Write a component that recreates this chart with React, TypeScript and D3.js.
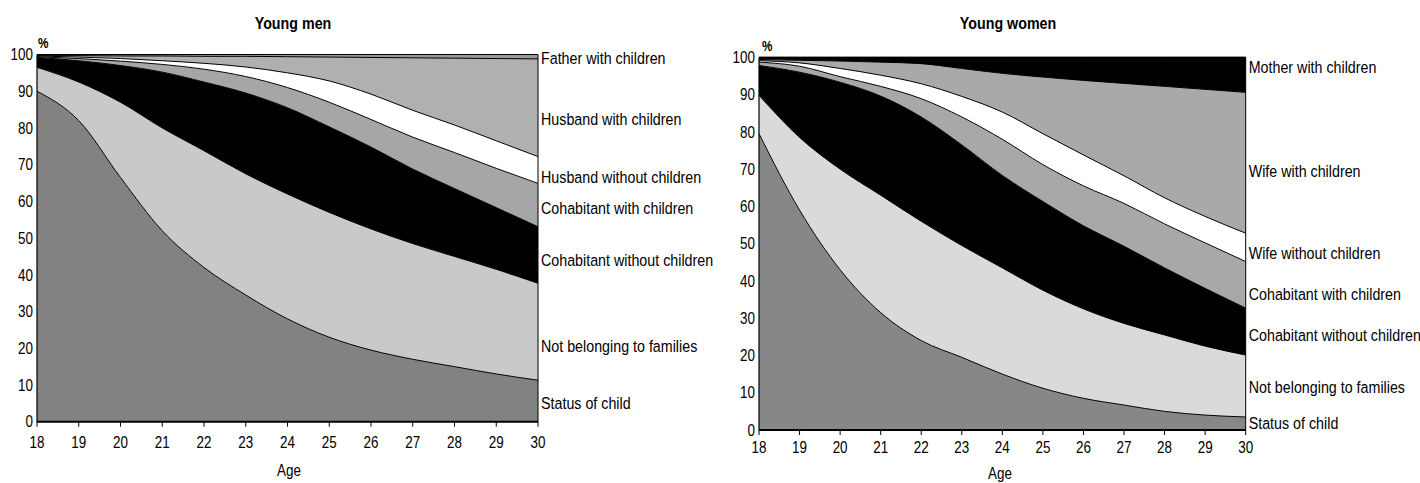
import React from 'react';
import * as d3 from 'd3';

const AGES = [18, 19, 20, 21, 22, 23, 24, 25, 26, 27, 28, 29, 30];
const Y_TICKS = [0, 10, 20, 30, 40, 50, 60, 70, 80, 90, 100];

// Young men (bottom to top), % of age group
const MEN_KEYS = [
  'Status of child',
  'Not belonging to families',
  'Cohabitant without children',
  'Cohabitant with children',
  'Husband without children',
  'Husband with children',
  'Father with children',
];
const menStatusOfChild = [90, 82, 66.5, 52, 42, 34.5, 28, 23, 19.5, 17, 15, 13, 11.3];
const menNotBelonging = [6.5, 10.5, 20.5, 28, 31.8, 33, 34, 34, 33, 31.5, 30, 28.5, 26.4];
const menCohabNoChildren = [2.7, 5.8, 10, 15.2, 18.7, 22, 23.5, 23.3, 22.3, 20.3, 18.5, 16.8, 15.4];
const menCohabChildren = [0.2, 0.6, 1.2, 2.1, 3.5, 4.5, 5.5, 6.7, 7.5, 8.7, 9.8, 10.7, 11.8];
const menHusbandNoChildren = [0.2, 0.4, 0.7, 1.0, 1.6, 2.6, 4.0, 5.8, 6.9, 7.3, 7.5, 7.5, 7.3];
const menHusbandChildren = [0.1, 0.4, 0.7, 1.3, 1.9, 2.9, 4.4, 6.5, 10.0, 14.3, 18.2, 22.4, 26.6];
const menFatherChildren = [0.3, 0.3, 0.4, 0.4, 0.5, 0.5, 0.6, 0.7, 0.8, 0.9, 1.0, 1.1, 1.2];
const menLabelAt = [5.0, 20.6, 44.2, 58.3, 66.7, 82.5, 99.0];

// Young women (bottom to top)
const WOMEN_KEYS = [
  'Status of child',
  'Not belonging to families',
  'Cohabitant without children',
  'Cohabitant with children',
  'Wife without children',
  'Wife with children',
  'Mother with children',
];
const womenStatusOfChild = [79.5, 59, 43, 31.5, 24, 19.5, 15, 11.2, 8.5, 6.7, 5, 4, 3.5];
const womenNotBelonging = [10.3, 19.5, 27, 31.5, 32, 30, 28.5, 26.3, 24, 21.9, 20.5, 18.5, 16.6];
const womenCohabNoChildren = [8, 17.5, 23.3, 26.6, 28, 27, 24.8, 23.8, 22.3, 20.7, 18, 15.5, 12.6];
const womenCohabChildren = [0.9, 1.6, 1.5, 2.6, 4.9, 7.5, 9.7, 9.9, 10.7, 11.5, 11.8, 12.2, 12.5];
const womenWifeNoChildren = [0.4, 0.9, 2.2, 3.0, 4.0, 5.5, 7.3, 8.3, 8.3, 7.4, 7.0, 7.1, 7.6];
const womenWifeChildren = [0.3, 0.7, 2.0, 3.5, 5.4, 7.5, 10.4, 15.2, 20, 24.8, 29.9, 34.1, 37.8];
const womenMotherChildren = [0.6, 0.8, 1.0, 1.3, 1.7, 3.0, 4.3, 5.3, 6.2, 7.0, 7.8, 8.6, 9.4];
const womenLabelAt = [1.9, 11.5, 25.5, 36.5, 47.5, 69.5, 97.4];

const FONT = "'Liberation Sans', Arial, sans-serif";
const SX = 0.84; // condensed look

function NText({ x, y, anchor = 'start', size, bold = false, dy = 0, children }: any) {
  return (
    <text
      transform={`translate(${x},${y}) scale(${SX},1)`}
      dy={dy}
      textAnchor={anchor}
      fontFamily={FONT}
      fontSize={size}
      fontWeight={bold ? 'bold' : 'normal'}
      fill="#000"
    >
      {children}
    </text>
  );
}

type Cfg = {
  title: string;
  keys: string[];
  series: number[][];
  labelAt: number[];
  fills: string[];
  x0: number; x1: number; yTop: number; yBot: number;
  titleX: number; ageX: number; ageY: number; tickY: number; pctX: number; pctY: number;
};

function Panel({ cfg }: { cfg: Cfg }) {
  const x = d3.scaleLinear().domain([18, 30]).range([cfg.x0, cfg.x1]);
  const y = d3.scaleLinear().domain([0, 100]).range([cfg.yBot, cfg.yTop]);
  const rows = AGES.map((age, i) => {
    const r: any = { age };
    cfg.keys.forEach((k, j) => (r[k] = cfg.series[j][i]));
    return r;
  });
  const layers = d3.stack<any>().keys(cfg.keys)(rows);
  const area = d3
    .area<any>()
    .x((d) => x(d.data.age))
    .y0((d) => y(d[0]))
    .y1((d) => y(d[1]))
    .curve(d3.curveMonotoneX);
  const line = d3
    .line<any>()
    .x((d) => x(d.data.age))
    .y((d) => y(d[1]))
    .curve(d3.curveMonotoneX);
  return (
    <g>
      <NText x={cfg.titleX} y={29} anchor="middle" size={17} bold>
        {cfg.title}
      </NText>
      <NText x={cfg.pctX} y={cfg.pctY} size={14} bold>%</NText>
      {layers.map((l, i) => (
        <path key={'a' + i} d={area(l) || ''} fill={cfg.fills[i]} stroke="none" />
      ))}
      {layers.map((l, i) => (
        <path key={'l' + i} d={line(l) || ''} fill="none" stroke="#000" strokeWidth={1} />
      ))}
      <line x1={cfg.x0} x2={cfg.x0} y1={cfg.yTop} y2={cfg.yBot} stroke="#000" strokeWidth={1.2} />
      <line x1={cfg.x1} x2={cfg.x1} y1={cfg.yTop} y2={cfg.yBot} stroke="#000" strokeWidth={1} />
      <line x1={cfg.x0} x2={cfg.x1} y1={cfg.yTop} y2={cfg.yTop} stroke="#000" strokeWidth={1.2} />
      <line x1={cfg.x0} x2={cfg.x1} y1={cfg.yBot} y2={cfg.yBot} stroke="#000" strokeWidth={2} />
      {AGES.map((a) => (
        <g key={'xt' + a}>
          <line x1={x(a)} x2={x(a)} y1={cfg.yBot} y2={cfg.yBot + 5} stroke="#000" strokeWidth={1} />
          <NText x={x(a)} y={cfg.tickY} anchor="middle" size={16}>
            {a}
          </NText>
        </g>
      ))}
      {Y_TICKS.map((t) => (
        <NText key={'yt' + t} x={cfg.x0 - 4} y={y(t)} dy="0.36em" anchor="end" size={16}>
          {t}
        </NText>
      ))}
      {cfg.keys.map((k, i) => (
        <NText key={'lb' + i} x={cfg.x1 + 3} y={y(cfg.labelAt[i])} dy="0.36em" size={17}>
          {k}
        </NText>
      ))}
      <NText x={cfg.ageX} y={cfg.ageY} anchor="middle" size={16}>Age</NText>
    </g>
  );
}

const MEN_FILLS = ['#828282', '#c9c9c9', '#000000', '#a6a6a6', '#ffffff', '#b0b0b0', '#9a9a9a'];
const WOMEN_FILLS = ['#878787', '#dadada', '#000000', '#a8a8a8', '#ffffff', '#a9a9a9', '#000000'];

export default function App() {
  const men: Cfg = {
    title: 'Young men',
    keys: MEN_KEYS,
    series: [menStatusOfChild, menNotBelonging, menCohabNoChildren, menCohabChildren, menHusbandNoChildren, menHusbandChildren, menFatherChildren],
    labelAt: menLabelAt,
    fills: MEN_FILLS,
    x0: 37, x1: 538, yTop: 54.5, yBot: 421.7,
    titleX: 293, ageX: 289, ageY: 476, tickY: 448, pctX: 38, pctY: 48,
  };
  const women: Cfg = {
    title: 'Young women',
    keys: WOMEN_KEYS,
    series: [womenStatusOfChild, womenNotBelonging, womenCohabNoChildren, womenCohabChildren, womenWifeNoChildren, womenWifeChildren, womenMotherChildren],
    labelAt: womenLabelAt,
    fills: WOMEN_FILLS,
    x0: 759, x1: 1245.7, yTop: 57.3, yBot: 430,
    titleX: 1008, ageX: 1000, ageY: 479, tickY: 453, pctX: 762, pctY: 51,
  };
  return (
    <svg width={1420} height={483} style={{ position: 'absolute', left: 0, top: 0, background: '#fff' }}>
      <rect width={1420} height={483} fill="#fff" />
      <Panel cfg={men} />
      <Panel cfg={women} />
    </svg>
  );
}
